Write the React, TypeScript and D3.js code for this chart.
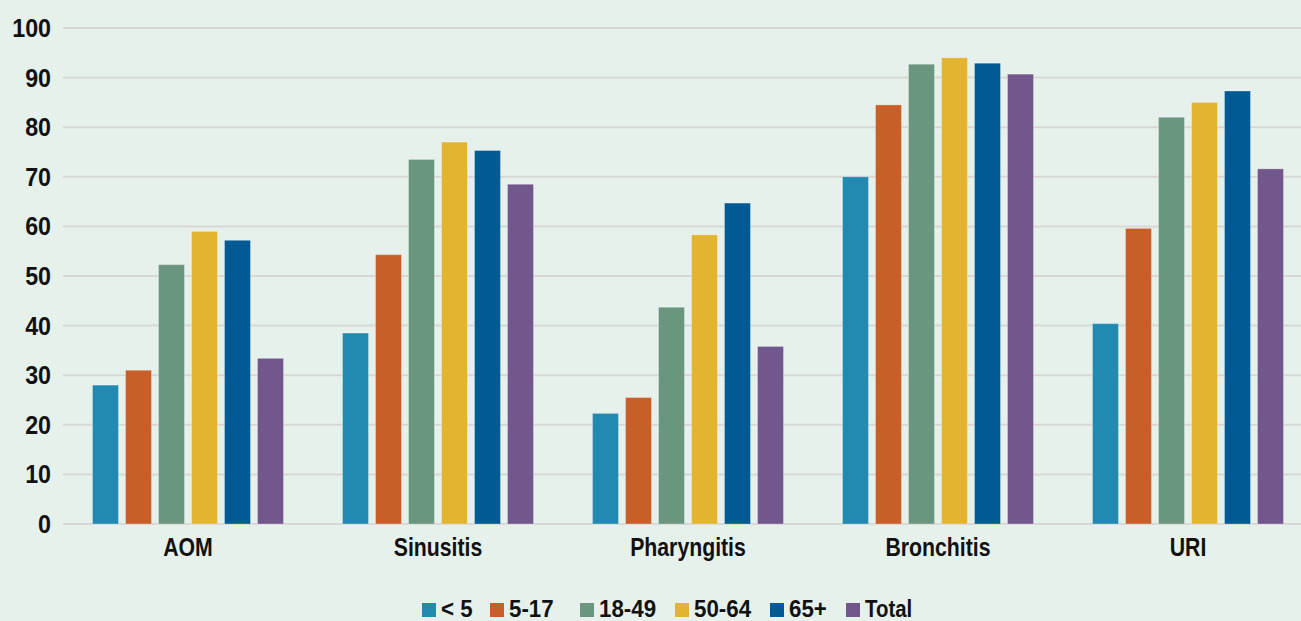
import React from "react";
import * as d3 from "d3";

const categories = ["AOM", "Sinusitis", "Pharyngitis", "Bronchitis", "URI"];
const seriesNames = ["< 5", "5-17", "18-49", "50-64", "65+", "Total"];
const seriesColors = ["#228AB0", "#C85F28", "#6A9680", "#E3B430", "#005A94", "#72578C"];
const under5 = [28, 38.5, 22.3, 70, 40.4];
const age5to17 = [31, 54.3, 25.5, 84.5, 59.6];
const age18to49 = [52.3, 73.5, 43.7, 92.7, 82];
const age50to64 = [59, 77, 58.3, 94, 85];
const age65plus = [57.2, 75.3, 64.7, 92.9, 87.3];
const total = [33.4, 68.5, 35.8, 90.7, 71.6];
const values: number[][] = [under5, age5to17, age18to49, age50to64, age65plus, total];
const yTicks = [0, 10, 20, 30, 40, 50, 60, 70, 80, 90, 100];
const legendX = [422, 490, 580, 675, 770, 846];

const W = 1301;
const H = 621;
const FONT = "'Liberation Sans', Arial, sans-serif";

function CondText(props: {
  x: number;
  y: number;
  anchor?: "start" | "middle" | "end";
  size: number;
  children: string;
}) {
  const hasLetters = /[A-Za-z]/.test(props.children);
  const k = hasLetters ? 0.85 : 0.93;
  return (
    <g transform={`translate(${props.x},${props.y}) scale(${k},1)`}>
      <text
        x={0}
        y={0}
        textAnchor={props.anchor || "start"}
        fontFamily={FONT}
        fontWeight="bold"
        fontSize={props.size}
        fill="#111"
      >
        {props.children}
      </text>
    </g>
  );
}

export default function App() {
  const x0 = d3.scaleBand<string>().domain(categories).range([63, 1313]).paddingInner(0).paddingOuter(0);
  const x1 = d3
    .scaleBand<string>()
    .domain(seriesNames)
    .range([29.5, 250 - 29.5])
    .paddingInner(7 / 33)
    .paddingOuter(0);
  const y = d3.scaleLinear().domain([0, 100]).range([524, 28]);

  return (
    <div style={{ position: "absolute", left: 0, top: 0 }}>
      <svg width={W} height={H} style={{ display: "block" }}>
        <rect x={0} y={0} width={W} height={H} fill="#E7F1EC" />
        {yTicks.map((t) => (
          <g key={t}>
            <line x1={63} x2={W} y1={y(t)} y2={y(t)} stroke="#D8D8D6" strokeWidth={2} />
            <CondText x={51} y={y(t) + 9} anchor="end" size={25}>
              {String(t)}
            </CondText>
          </g>
        ))}
        {categories.map((c, ci) => (
          <g key={c} transform={`translate(${x0(c)},0)`}>
            {seriesNames.map((s, si) => {
              const v = values[si][ci];
              return (
                <rect
                  key={s}
                  x={x1(s)}
                  y={y(v)}
                  width={x1.bandwidth()}
                  height={y(0) - y(v)}
                  fill={seriesColors[si]}
                  stroke="rgba(255,255,255,0.3)"
                  strokeWidth={1}
                />
              );
            })}
            <CondText x={x0.bandwidth() / 2} y={556} anchor="middle" size={25}>
              {c}
            </CondText>
          </g>
        ))}
        {seriesNames.map((s, si) => (
          <g key={s} transform={`translate(${legendX[si]},0)`}>
            <rect x={0} y={603} width={14} height={14} fill={seriesColors[si]} />
            <CondText x={19} y={617} size={24}>
              {s}
            </CondText>
          </g>
        ))}
      </svg>
    </div>
  );
}
